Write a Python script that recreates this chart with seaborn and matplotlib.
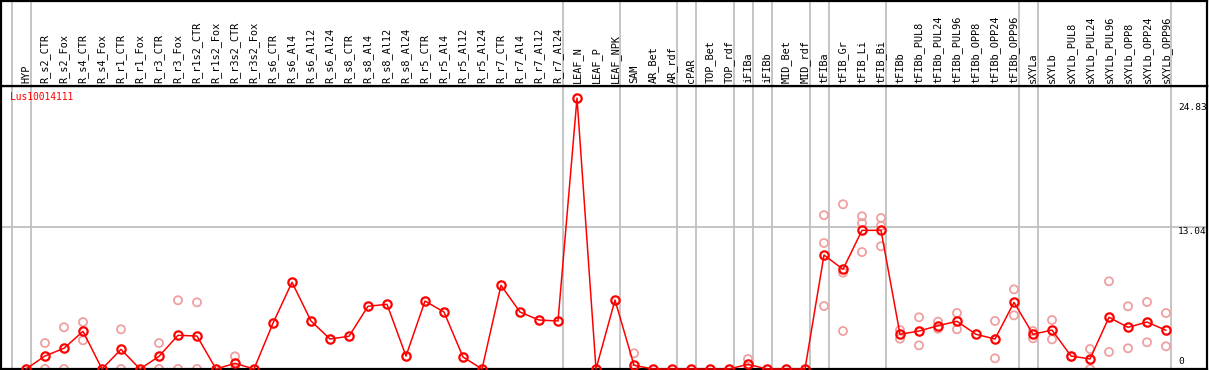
import numpy as np
import pandas as pd
import matplotlib
matplotlib.use("Agg")
import matplotlib.pyplot as plt
import seaborn as sns

categories = ["HYP", "R_s2_CTR", "R_s2_Fox", "R_s4_CTR", "R_s4_Fox", "R_r1_CTR", "R_r1_Fox",
              "R_r3_CTR", "R_r3_Fox", "R_r1s2_CTR", "R_r1s2_Fox", "R_r3s2_CTR", "R_r3s2_Fox",
              "R_s6_CTR", "R_s6_Al4", "R_s6_Al12", "R_s6_Al24", "R_s8_CTR", "R_s8_Al4",
              "R_s8_Al12", "R_s8_Al24", "R_r5_CTR", "R_r5_Al4", "R_r5_Al12", "R_r5_Al24",
              "R_r7_CTR", "R_r7_Al4", "R_r7_Al12", "R_r7_Al24", "LEAF_N", "LEAF_P", "LEAF_NPK",
              "SAM", "AR_Bet", "AR_rdf", "cPAR", "TOP_Bet", "TOP_rdf", "iFIBa", "iFIBb",
              "MID_Bet", "MID_rdf", "tFIBa", "tFIB_Gr", "tFIB_Li", "tFIB_Bi", "tFIBb",
              "tFIBb_PUL8", "tFIBb_PUL24", "tFIBb_PUL96", "tFIBb_OPP8", "tFIBb_OPP24",
              "tFIBb_OPP96", "sXYLa", "sXYLb", "sXYLb_PUL8", "sXYLb_PUL24", "sXYLb_PUL96",
              "sXYLb_OPP8", "sXYLb_OPP24", "sXYLb_OPP96"]

mean_values = [0, 1.19, 1.90, 3.45, 0, 1.80, 0, 1.16, 3.09, 3.02, 0, 0.52, 0,
               4.20, 7.95, 4.40, 2.75, 3.00, 5.75, 5.93, 1.19, 6.23, 5.22, 1.10, 0,
               7.67, 5.22, 4.49, 4.40, 24.83, 0, 6.32,
               0.34, 0, 0, 0, 0, 0, 0.43, 0, 0, 0,
               10.45, 9.14, 12.71, 12.71, 3.18, 3.48, 3.97, 4.37, 3.18, 2.75, 6.11,
               3.18, 3.57, 1.19, 0.92, 4.74, 3.82, 4.30, 3.55]

# replicate measurements (category, value)
rep_categories = ["R_s2_CTR", "R_s2_CTR", "R_s2_Fox", "R_s2_Fox", "R_s4_CTR", "R_s4_CTR",
                  "R_r1_CTR", "R_r1_CTR", "R_r3_CTR", "R_r3_CTR", "R_r3_Fox", "R_r3_Fox",
                  "R_r1s2_CTR", "R_r1s2_CTR", "R_r3s2_CTR", "R_r3s2_CTR",
                  "SAM", "SAM", "iFIBa", "iFIBa",
                  "tFIBa", "tFIBa", "tFIBa", "tFIB_Gr", "tFIB_Gr", "tFIB_Gr",
                  "tFIB_Li", "tFIB_Li", "tFIB_Li", "tFIB_Bi", "tFIB_Bi", "tFIB_Bi",
                  "tFIBb", "tFIBb", "tFIBb_PUL8", "tFIBb_PUL8", "tFIBb_PUL24", "tFIBb_PUL24",
                  "tFIBb_PUL96", "tFIBb_PUL96", "tFIBb_OPP24", "tFIBb_OPP24",
                  "tFIBb_OPP96", "tFIBb_OPP96", "sXYLa", "sXYLa", "sXYLb", "sXYLb",
                  "sXYLb_PUL8", "sXYLb_PUL24", "sXYLb_PUL24", "sXYLb_PUL96", "sXYLb_PUL96",
                  "sXYLb_OPP8", "sXYLb_OPP8", "sXYLb_OPP24", "sXYLb_OPP24",
                  "sXYLb_OPP96", "sXYLb_OPP96"]
rep_values = [2.38, 0, 3.82, 0, 4.30, 2.63,
              3.64, 0, 2.38, 0, 6.30, 0,
              6.11, 0, 1.16, 0,
              1.44, 0, 0.92, 0,
              14.10, 11.55, 5.77, 15.10, 8.83, 3.48,
              14.00, 13.38, 10.72, 13.84, 13.13, 11.25,
              3.57, 2.78, 4.74, 2.17, 4.34, 3.69,
              5.13, 3.64, 4.40, 0.98,
              7.30, 4.92, 3.48, 2.81, 4.49, 2.72,
              1.13, 1.83, 0, 8.04, 1.56,
              5.75, 1.90, 6.14, 2.45,
              5.13, 2.08]

group_ends = ["HYP", "R_r7_Al24", "LEAF_NPK", "AR_rdf", "cPAR", "TOP_rdf", "iFIBa",
              "iFIBb", "MID_rdf", "tFIBa", "tFIB_Bi", "tFIBb_OPP96", "sXYLa", "sXYLb_OPP96"]
gene_name = "Lus10014111"
ref_lines = [24.83, 13.04, 0]

sns.set_style("white")
plt.rcParams['font.family'] = ['DejaVu Sans Mono']

W, H = 1209, 370
fig = plt.figure(figsize=(W / 100, H / 100), dpi=100)
fig.patch.set_facecolor("white")

# pixel geometry
x0_px, dx_px = 26, 19
left_px, right_px = 1, 1207
header_top_px, header_bot_px, plot_bot_px = 1, 86, 369
px_per_unit = 10.91

xlim = ((left_px - x0_px) / dx_px, (right_px - x0_px) / dx_px)
ax = fig.add_axes([left_px / W, (H - plot_bot_px) / H, (right_px - left_px) / W,
                   (plot_bot_px - header_bot_px) / H])
hax = fig.add_axes([left_px / W, (H - header_bot_px) / H, (right_px - left_px) / W,
                    (header_bot_px - header_top_px) / H])

idx = {c: i for i, c in enumerate(categories)}
df_main = pd.DataFrame({"x": np.arange(len(categories)), "y": mean_values})
df_rep = pd.DataFrame({"x": [idx[c] for c in rep_categories], "y": rep_values})

for a in (ax, hax):
    a.set_xlim(*xlim)
    a.set_xticks([])
    a.set_yticks([])
    for s in a.spines.values():
        s.set_color("black")
        s.set_linewidth(1.6)
    for g in group_ends:
        a.axvline(idx[g] + 0.25, color="#c0c0c0", lw=1.3, zorder=0)
    a.axvline(-1 + 0.25, color="#c0c0c0", lw=1.3, zorder=0)

ax.set_ylim(0, (plot_bot_px - header_bot_px) / px_per_unit)
hax.set_ylim(0, 1)

ax.axhline(ref_lines[1], color="#c0c0c0", lw=1.3, zorder=0)

sns.scatterplot(data=df_rep, x="x", y="y", ax=ax, marker="o", s=34,
                facecolors="none", edgecolors="#f0a0a0", linewidths=1.3,
                zorder=2, clip_on=False, legend=False)
sns.lineplot(data=df_main, x="x", y="y", ax=ax, color="#ff0000", lw=1.1,
             marker="o", markersize=6, markerfacecolor="none",
             markeredgecolor="#ff0000", markeredgewidth=1.6,
             zorder=3, clip_on=False, legend=False)
ax.set_xlabel("")
ax.set_ylabel("")

for i, c in enumerate(categories):
    hax.text(i, (header_bot_px - 83) / (header_bot_px - header_top_px), c,
             rotation=90, ha="center", va="bottom", fontsize=7.4, color="black")

ax.text((10 - left_px) / (right_px - left_px),
        1 - (97 - header_bot_px) / (plot_bot_px - header_bot_px), gene_name,
        transform=ax.transAxes, ha="left", va="center", fontsize=6.9, color="#ff0000")

label_y_px = [108, 231.5, 362]
for v, ypx in zip(ref_lines, label_y_px):
    ax.text((1178 - left_px) / (right_px - left_px),
            1 - (ypx - header_bot_px) / (plot_bot_px - header_bot_px),
            f"{v:g}" if v == 0 else f"{v:.2f}", transform=ax.transAxes,
            ha="left", va="center", fontsize=6.8, color="black")

fig.savefig("out.png", dpi=100, facecolor="white")
